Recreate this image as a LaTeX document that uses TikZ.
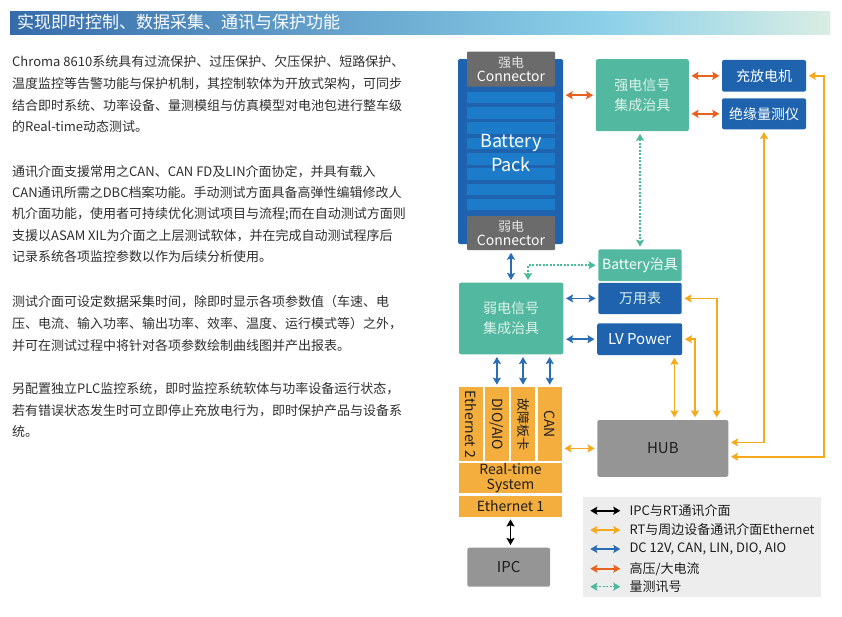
\documentclass[tikz,border=0pt]{standalone}
\usepackage{fontspec}
\usepackage{graphicx}
\setmainfont{Noto Sans CJK SC}
\usetikzlibrary{calc,arrows.meta}

\definecolor{packblue}{HTML}{1F63AE}
\definecolor{cellblue}{HTML}{1C7CC9}
\definecolor{conngray}{HTML}{6B6B6B}
\definecolor{connlabel}{HTML}{E2E2E2}
\definecolor{hubgray}{HTML}{959595}
\definecolor{fixteal}{HTML}{52B9A0}
\definecolor{fixlabel}{HTML}{DDF1EA}
\definecolor{cardamber}{HTML}{F4AE3D}
\definecolor{hvorange}{HTML}{E8621F}
\definecolor{netamber}{HTML}{F5A91C}
\definecolor{sigblue}{HTML}{2A6DB5}
\definecolor{measteal}{HTML}{4DB99B}
\definecolor{bodytext}{HTML}{2E2E2E}
\definecolor{darktext}{HTML}{1E1E1E}
\definecolor{legendgray}{HTML}{EDEDED}
\definecolor{titleA}{HTML}{366BAA}
\definecolor{titleB}{HTML}{8BD0E8}
\definecolor{titleC}{HTML}{D9EDE4}
\pgfdeclarehorizontalshading{titlebar}{100bp}{color(0bp)=(titleA); color(25bp)=(titleA); color(61bp)=(titleB); color(75bp)=(titleC); color(100bp)=(titleC)}

\tikzset{
  box/.style={rounded corners=2pt, inner sep=0pt, align=center},
  bluebox/.style={box, fill=packblue, text=white, font=\fontsize{14}{18}\selectfont},
  tealbox/.style={box, fill=fixteal, text=fixlabel, font=\fontsize{14}{20}\selectfont},
  connbox/.style={box, rounded corners=1pt, fill=conngray, text=white, font=\fontsize{14}{13.5}\selectfont},
  graybox/.style={box, fill=hubgray, text=darktext, font=\fontsize{15}{18}\selectfont},
  card/.style={box, rounded corners=0pt, fill=cardamber, text=darktext, font=\fontsize{14}{15}\selectfont},
  bodyline/.style={anchor=base west, inner sep=0pt, text=bodytext, font=\fontsize{13}{16}\selectfont},
  legendtext/.style={anchor=west, inner sep=0pt, text=darktext, font=\fontsize{13}{16}\selectfont},
  gap/.style={shorten <=2.5pt, shorten >=2.5pt},
  hvline/.style={hvorange, line width=1.6pt, <->},
  netline/.style={netamber, line width=1.6pt, <->},
  sigline/.style={sigblue, line width=1.6pt, <->},
  ipcline/.style={black, line width=1.6pt, <->},
  measline/.style={measteal, line width=1.5pt, dash pattern=on 2pt off 1.5pt, <->}
}

\begin{document}
\begin{tikzpicture}[x=1pt, y=-1pt, >={Stealth[length=7pt,width=8pt,inset=1.2pt]}]
		\useasboundingbox (0,0) rectangle (842,616);
		%%%%% START %%%%%
		
		\shade[shading=titlebar] (10,11) rectangle (830,34);
		\node[anchor=west, inner sep=0pt, text=white, font=\fontsize{17}{20}\selectfont] (title) at (17,22.5) {实现即时控制、数据采集、通讯与保护功能};
		
		\node[bodyline] (p1a) at (12,66.7) {Chroma 8610系统具有过流保护、过压保护、欠压保护、短路保护、};
		\node[bodyline] (p1b) at (12,88.3) {温度监控等告警功能与保护机制，其控制软体为开放式架构，可同步};
		\node[bodyline] (p1c) at (12,110) {结合即时系统、功率设备、量测模组与仿真模型对电池包进行整车级};
		\node[bodyline] (p1d) at (12,131.7) {的Real-time动态测试。};
		
		\node[bodyline] (p2a) at (12,176.7) {通讯介面支援常用之CAN、CAN FD及LIN介面协定，并具有载入};
		\node[bodyline] (p2b) at (12,197.7) {CAN通讯所需之DBC档案功能。手动测试方面具备高弹性编辑修改人};
		\node[bodyline] (p2c) at (12,218.3) {机介面功能，使用者可持续优化测试项目与流程;而在自动测试方面则};
		\node[bodyline] (p2d) at (12,240) {支援以ASAM XIL为介面之上层测试软体，并在完成自动测试程序后};
		\node[bodyline] (p2e) at (12,261) {记录系统各项监控参数以作为后续分析使用。};
		
		\node[bodyline] (p3a) at (12,306.7) {测试介面可设定数据采集时间，除即时显示各项参数值（车速、电};
		\node[bodyline] (p3b) at (12,328.3) {压、电流、输入功率、输出功率、效率、温度、运行模式等）之外，};
		\node[bodyline] (p3c) at (12,350) {并可在测试过程中将针对各项参数绘制曲线图并产出报表。};
		
		\node[bodyline] (p4a) at (12,393.3) {另配置独立PLC监控系统，即时监控系统软体与功率设备运行状态，};
		\node[bodyline] (p4b) at (12,415) {若有错误状态发生时可立即停止充放电行为，即时保护产品与设备系};
		\node[bodyline] (p4c) at (12,436.7) {统。};
		
		% battery pack
		\node[box, fill=packblue, minimum width=105pt, minimum height=185pt] (pack) at (510.5,151.5) {};
		\fill[cellblue] (467,91.7) rectangle (555,103.3);
		\fill[cellblue] (467,107) rectangle (555,118.6);
		\fill[cellblue] (467,122.3) rectangle (555,133.9);
		\fill[cellblue] (467,137.6) rectangle (555,149.2);
		\fill[cellblue] (467,152.9) rectangle (555,164.5);
		\fill[cellblue] (467,168.2) rectangle (555,179.8);
		\fill[cellblue] (467,183.5) rectangle (555,195.1);
		\fill[cellblue] (467,198.8) rectangle (555,210.4);
		\node[align=center, text=white, font=\fontsize{18}{23.7}\selectfont] (packtext) at (511,153) {Battery\\Pack};
		\node[connbox, minimum width=88pt, minimum height=35pt] (hvconn) at (511,69.2) {{\color{connlabel}\fontsize{13}{13.5}\selectfont 强电}\\Connector};
		\node[connbox, minimum width=88pt, minimum height=34pt] (lvconn) at (511,233) {{\color{connlabel}\fontsize{13}{13.5}\selectfont 弱电}\\Connector};
		
		% fixtures and instruments
		\node[tealbox, minimum width=93pt, minimum height=72pt] (hvfix) at (642.3,95.2) {强电信号\\集成治具};
		\node[bluebox, minimum width=84pt, minimum height=31.7pt] (charger) at (764,75.8) {充放电机};
		\node[bluebox, minimum width=84pt, minimum height=31pt] (insul) at (764,113.8) {绝缘量测仪};
		\node[tealbox, text=white, minimum width=83.4pt, minimum height=31.7pt] (batfix) at (640,265.2) {Battery治具};
		\node[bluebox, text=fixlabel, minimum width=83.4pt, minimum height=31.3pt] (dmm) at (640,298.4) {万用表};
		\node[bluebox, font=\fontsize{15}{18}\selectfont, minimum width=85pt, minimum height=31.7pt] (lvps) at (639.7,339.2) {LV Power};
		\node[tealbox, minimum width=104.3pt, minimum height=71.6pt] (lvfix) at (511.2,318.5) {弱电信号\\集成治具};
		
		% real-time system
		\node[card, minimum width=23.7pt, minimum height=73.7pt] (eth2) at (470.9,424.2) {\rotatebox{-90}{Ethernet 2}};
		\node[card, minimum width=23.7pt, minimum height=73.7pt] (dio) at (496.9,424.2) {\rotatebox{-90}{DIO/AIO}};
		\node[card, minimum width=24pt, minimum height=73.7pt] (fault) at (523,424.2) {\rotatebox{-90}{\fontsize{13}{15}\selectfont 故障板卡}};
		\node[card, minimum width=24pt, minimum height=73.7pt] (can) at (549.7,424.2) {\rotatebox{-90}{CAN}};
		\node[card, minimum width=103pt, minimum height=30.3pt] (rts) at (510.5,478.2) {Real-time\\System};
		\node[card, minimum width=103pt, minimum height=20.7pt] (eth1) at (510.5,506.4) {Ethernet 1};
		\node[graybox, minimum width=82.7pt, minimum height=39pt] (ipc) at (508.7,567.2) {IPC};
		\node[graybox, minimum width=131pt, minimum height=56.7pt] (hub) at (662.8,448.4) {HUB};
		
		\coordinate (lvtap) at ($(lvps.south east)+(-8,0)$);
		\coordinate (lvdrop) at ($(hub.north)+(32.2,0)$);
		\coordinate (dmmdrop) at ($(hub.north)+(53.9,0)$);
		\coordinate (hubin1) at ($(hub.east)+(0,-6)$);
		\coordinate (hubin2) at ($(hub.east)+(0,8.3)$);
		\coordinate (meastap) at ($(lvfix.north)+(16.8,0)$);
		
		% connectors
		\draw[hvline, gap] (hvfix.west -| pack.east) -- (hvfix.west);
		\draw[hvline, gap] (hvfix.east |- charger.west) -- (charger.west);
		\draw[hvline, gap] (hvfix.east |- insul.west) -- (insul.west);
		\draw[measline, gap] (batfix.north |- hvfix.south) -- (batfix.north);
		\draw[measline, gap] (batfix.west) -| (meastap);
		\draw[sigline, gap] (lvconn.south) -- (lvconn.south |- lvfix.north);
		\draw[sigline, gap] (lvfix.east |- dmm.west) -- (dmm.west);
		\draw[sigline, gap] (lvfix.east |- lvps.west) -- (lvps.west);
		\draw[sigline, gap] (dio.north |- lvfix.south) -- (dio.north);
		\draw[sigline, gap] (fault.north |- lvfix.south) -- (fault.north);
		\draw[sigline, gap] (can.north |- lvfix.south) -- (can.north);
		\draw[netline, gap] (can.east |- hub.west) -- (hub.west);
		\draw[ipcline, gap] (eth1.south) -- (eth1.south |- ipc.north);
		\draw[netline, gap] (lvtap) -- (lvtap |- hub.north);
		\draw[netline, gap] (lvps.east) -| (lvdrop);
		\draw[netline, gap] (dmm.east) -| (dmmdrop);
		\draw[netline, gap] (insul.south) |- (hubin1);
		\draw[netline, gap] (charger.east) -- ++(18,0) |- (hubin2);
		
		% legend
		\node[fill=legendgray, inner sep=0pt, minimum width=237.4pt, minimum height=100pt] (legend) at (702,546.7) {};
		\node[legendtext] (lg1) at (629.3,510.7) {IPC与RT通讯介面};
		\node[legendtext] (lg2) at (629.3,530) {RT与周边设备通讯介面Ethernet};
		\node[legendtext] (lg3) at (629.3,549) {DC 12V, CAN, LIN, DIO, AIO};
		\node[legendtext] (lg4) at (629.3,568.7) {高压/大电流};
		\node[legendtext] (lg5) at (629.3,586.7) {量测讯号};
		\draw[ipcline] ($(lg1.west)+(-39,0)$) -- ($(lg1.west)+(-9,0)$);
		\draw[netline] ($(lg2.west)+(-39,0)$) -- ($(lg2.west)+(-9,0)$);
		\draw[sigline] ($(lg3.west)+(-39,0)$) -- ($(lg3.west)+(-9,0)$);
		\draw[hvline] ($(lg4.west)+(-39,0)$) -- ($(lg4.west)+(-9,0)$);
		\draw[measline] ($(lg5.west)+(-39,0)$) -- ($(lg5.west)+(-9,0)$);
		
		%%%%% END %%%%%
	\end{tikzpicture}
\end{document}
